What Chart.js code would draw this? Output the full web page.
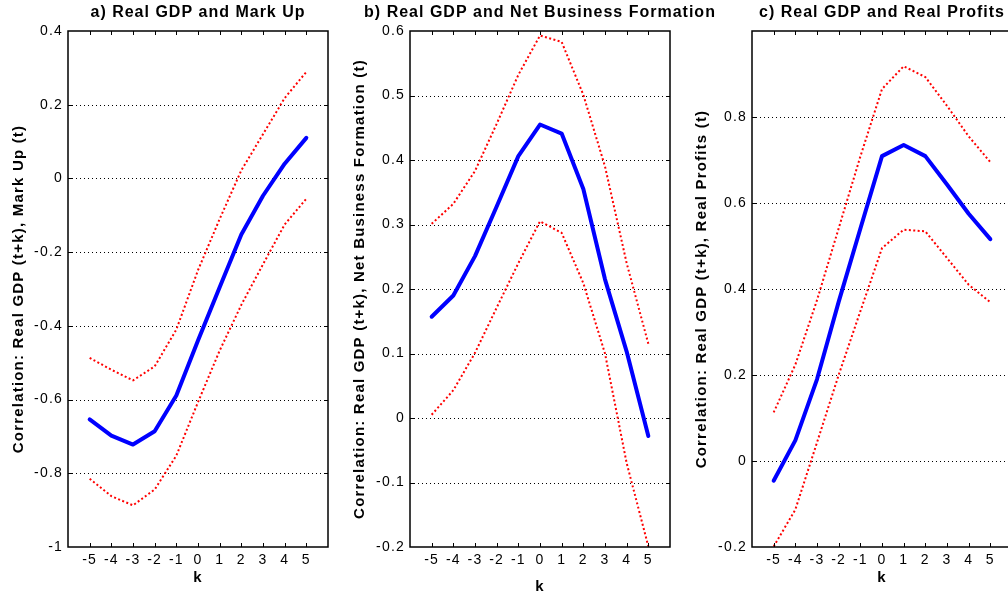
<!DOCTYPE html>
<html><head><meta charset="utf-8">
<script src="https://cdn.jsdelivr.net/npm/chart.js@4"></script>
<style>
html,body{margin:0;padding:0;width:1008px;height:597px;overflow:hidden;background:#fff;position:relative}
canvas{position:absolute;top:0}
</style></head><body>
<canvas id="ca" width="340" height="597" style="left:0px;width:340px;height:597px"></canvas>
<canvas id="cb" width="400" height="597" style="left:340px;width:400px;height:597px"></canvas>
<canvas id="cc" width="340" height="597" style="left:680px;width:340px;height:597px"></canvas>
<script>
// ---- data ----
const lags = [-5,-4,-3,-2,-1,0,1,2,3,4,5];

const markupCorr  = [-0.654,-0.698,-0.722,-0.686,-0.589,-0.440,-0.295,-0.152,-0.047,0.040,0.110];
const markupUpper = [-0.487,-0.519,-0.548,-0.510,-0.410,-0.249,-0.110,0.022,0.120,0.218,0.289];
const markupLower = [-0.815,-0.862,-0.887,-0.844,-0.752,-0.607,-0.467,-0.343,-0.233,-0.125,-0.055];

const nbfCorr  = [0.157,0.190,0.251,0.328,0.406,0.455,0.441,0.355,0.215,0.103,-0.028];
const nbfUpper = [0.301,0.332,0.383,0.456,0.532,0.593,0.583,0.501,0.390,0.240,0.115];
const nbfLower = [0.005,0.043,0.101,0.171,0.240,0.305,0.287,0.209,0.100,-0.070,-0.199];

const profitCorr  = [-0.046,0.048,0.190,0.370,0.540,0.709,0.735,0.709,0.643,0.575,0.516];
const profitUpper = [0.113,0.224,0.374,0.541,0.708,0.865,0.918,0.893,0.826,0.755,0.695];
const profitLower = [-0.199,-0.113,0.043,0.200,0.348,0.495,0.538,0.534,0.472,0.410,0.369];

const titles = ['a) Real GDP and Mark Up','b) Real GDP and Net Business Formation','c) Real GDP and Real Profits'];
const yTitles = ['Correlation: Real GDP (t+k), Mark Up (t)','Correlation: Real GDP (t+k), Net Business Formation (t)','Correlation: Real GDP (t+k), Real Profits (t)'];
const xTitle = 'k';
const yMins = [-1,-0.2,-0.2];
const yMaxs = [0.4,0.6,1.0];
const ySteps = [0.2,0.1,0.2];
const xMin = -6, xMax = 6;

// ---- drawing ----
const FONT = "'Liberation Sans', Arial, Helvetica, sans-serif";
const SP = '1.2px';

const frame = {
  id: 'frame',
  beforeLayout(chart){ chart.ctx.letterSpacing = SP; },
  beforeDraw(chart){ chart.ctx.letterSpacing = SP; },
  beforeDatasetsDraw(chart){
    const {ctx, chartArea:a, scales:{y}} = chart;
    ctx.save();
    ctx.strokeStyle = '#000'; ctx.lineWidth = 1; ctx.setLineDash([1,3]);
    y.ticks.forEach(t => {
      if (t.value <= y.min + 1e-9 || t.value >= y.max - 1e-9) return;
      const py = Math.round(y.getPixelForValue(t.value)) + 0.5;
      ctx.beginPath(); ctx.moveTo(a.left, py); ctx.lineTo(a.right, py); ctx.stroke();
    });
    ctx.restore();
  },
  afterDatasetsDraw(chart){
    const {ctx, chartArea:a, scales:{x, y}} = chart;
    ctx.save();
    ctx.strokeStyle = '#000'; ctx.lineWidth = 1.5; ctx.setLineDash([]);
    ctx.strokeRect(a.left, a.top, a.right - a.left, a.bottom - a.top);
    ctx.lineWidth = 1;
    const L = 4;
    x.ticks.forEach(t => {
      if (t.value <= x.min || t.value >= x.max) return;
      const px = Math.round(x.getPixelForValue(t.value)) + 0.5;
      ctx.beginPath();
      ctx.moveTo(px, a.bottom); ctx.lineTo(px, a.bottom - L);
      ctx.moveTo(px, a.top); ctx.lineTo(px, a.top + L);
      ctx.stroke();
    });
    y.ticks.forEach(t => {
      if (t.value <= y.min + 1e-9 || t.value >= y.max - 1e-9) return;
      const py = Math.round(y.getPixelForValue(t.value)) + 0.5;
      ctx.beginPath();
      ctx.moveTo(a.left, py); ctx.lineTo(a.left + L, py);
      ctx.moveTo(a.right, py); ctx.lineTo(a.right - L, py);
      ctx.stroke();
    });
    // panel title, centred over the plot area
    const t = chart.options.plugins.frame.title;
    ctx.letterSpacing = '1px';
    ctx.fillStyle = '#000';
    ctx.font = 'bold 16px ' + FONT;
    ctx.textAlign = 'center';
    ctx.textBaseline = 'middle';
    ctx.fillText(t, (a.left + a.right) / 2, 13);
    ctx.restore();
  }
};

const pts = arr => lags.map((k, i) => ({x: k, y: arr[i]}));
const fmt = v => { const r = Math.round(v * 10) / 10; return r === 0 ? '0' : String(r); };

function makeChart(id, idx, series, lo){
  const [corr, up, low] = series;
  new Chart(document.getElementById(id), {
    type: 'line',
    data: {
      datasets: [
        {data: pts(up), borderColor: '#ff0000', borderWidth: 2, borderDash: [2, 2.4], pointRadius: 0, tension: 0},
        {data: pts(low), borderColor: '#ff0000', borderWidth: 2, borderDash: [2, 2.4], pointRadius: 0, tension: 0},
        {data: pts(corr), borderColor: '#0000ff', borderWidth: 4, pointRadius: 0, tension: 0, borderJoinStyle: 'round', borderCapStyle: 'round'}
      ]
    },
    options: {
      responsive: false, animation: false, devicePixelRatio: 1,
      layout: {padding: {left: 0, right: lo.right, top: 31, bottom: 0}},
      plugins: {
        legend: {display: false}, tooltip: {enabled: false}, title: {display: false},
        frame: {title: titles[idx]}
      },
      scales: {
        x: {
          type: 'linear', min: xMin, max: xMax,
          ticks: {stepSize: 1, autoSkip: false, maxRotation: 0, padding: 5, color: '#000',
            font: {family: FONT, size: 14, lineHeight: 1.2},
            callback: v => (v <= xMin || v >= xMax) ? '' : String(v)},
          grid: {display: false, drawTicks: false},
          border: {display: false},
          title: {display: true, text: xTitle, color: '#000',
            font: {family: FONT, size: 15, weight: 'bold', lineHeight: 1.2},
            padding: {top: 0, bottom: lo.kPad}},
          afterFit: s => { s.height = 50; }
        },
        y: {
          min: yMins[idx], max: yMaxs[idx],
          ticks: {stepSize: ySteps[idx], padding: 5, color: '#000',
            font: {family: FONT, size: 14, lineHeight: 1.2},
            callback: v => (Math.abs(v - 1) < 1e-9 && idx === 2) ? '' : fmt(v)},
          grid: {display: false, drawTicks: false},
          border: {display: false},
          title: {display: true, text: yTitles[idx], color: '#000',
            font: {family: FONT, size: 15, weight: 'bold', lineHeight: 1.2},
            padding: {top: lo.yTitlePad, bottom: 0}},
          afterFit: s => { s.width = lo.yWidth; }
        }
      }
    },
    plugins: [frame]
  });
}

makeChart('ca', 0, [markupCorr, markupUpper, markupLower], {right: 12, yWidth: 68, yTitlePad: 10, kPad: 10});
makeChart('cb', 1, [nbfCorr, nbfUpper, nbfLower], {right: 70, yWidth: 70, yTitlePad: 11, kPad: 1});
makeChart('cc', 2, [profitCorr, profitUpper, profitLower], {right: 8, yWidth: 72, yTitlePad: 13, kPad: 10});
</script>
</body></html>
